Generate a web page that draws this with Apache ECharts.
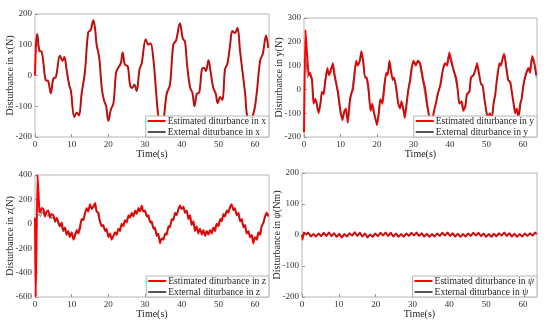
<!DOCTYPE html>
<html><head><meta charset="utf-8">
<script src="https://cdn.jsdelivr.net/npm/echarts@6/dist/echarts.min.js"></script>
<style>html,body{margin:0;padding:0;background:#fff}#c{width:550px;height:327px}</style>
</head><body><div id="c"></div>
<script>
// ---- Data ----
const xTicks = [0,10,20,30,40,50,60];
const tX = [0,0.3,0.6,1.2,1.8,2.3,2.9,3.6,4.3,5.0,5.7,6.8,7.5,8.0,8.6,9.3,9.8,10.7,11.4,12.0,12.7,13.6,14.5,15.2,15.9,16.4,16.8,17.5,18.2,18.8,19.4,20.0,20.7,21.4,22.1,22.7,23.4,23.9,24.5,25.3,25.9,26.5,27.1,27.7,28.5,29.1,30.2,30.9,31.5,32.3,33.0,33.6,34.4,35.0,35.9,36.8,37.7,38.5,39.5,40.3,40.9,41.5,42.3,42.9,43.5,44.1,44.8,45.5,46.1,46.6,47.3,47.9,48.6,49.3,49.8,50.5,51.1,51.8,52.5,53.2,53.8,54.5,55.2,55.9,56.6,57.3,57.7,58.5,59.4,60.0,60.6,61.4,62.1,63.0,63.6];
const estX = [0,105,135,80,78,40,-15,-18,-58,-10,-5,65,48,60,20,-30,-50,-135,-120,-130,-60,10,140,148,180,150,100,60,-40,-80,-100,-148,-110,-90,10,25,40,75,35,30,-30,-40,-30,-50,20,40,118,100,105,50,-50,-130,-175,-150,-60,-30,100,115,170,120,110,30,-40,-55,-100,-60,-55,20,25,15,50,10,-40,-60,-90,-70,-80,20,40,100,145,138,155,80,10,-60,-120,-165,-130,-100,-40,50,70,130,90];
const extX = [95,108,133,82,76,38,-14,-20,-56,-12,-4,63,50,58,22,-28,-52,-132,-122,-128,-62,12,138,150,178,152,98,58,-38,-82,-98,-146,-112,-88,8,27,42,73,37,28,-28,-42,-28,-52,18,42,116,102,103,52,-48,-128,-173,-152,-58,-32,98,117,168,122,108,32,-38,-57,-98,-62,-53,18,27,13,48,12,-38,-62,-88,-72,-78,18,42,98,143,140,153,82,8,-58,-118,-163,-132,-98,-42,48,72,128,92];

const tY = [0,0.4,0.9,1.3,1.6,2.2,2.6,3.1,3.5,4.0,4.5,4.9,5.4,5.8,6.4,6.8,7.3,7.9,8.4,8.9,9.3,9.9,10.5,11.1,11.5,12.0,12.5,12.9,13.4,13.8,14.3,14.7,15.3,15.7,16.2,16.7,17.2,17.7,18.2,18.7,19.2,19.7,20.0,20.5,20.9,21.5,22.0,22.5,22.9,23.4,23.8,24.3,24.7,25.3,25.8,26.3,26.7,27.3,27.6,28.1,28.6,29.1,29.5,30.0,30.6,31.2,31.8,32.5,33.2,33.7,34.4,35.0,35.6,36.1,36.6,37.4,38.0,38.6,39.2,39.8,40.5,41.0,41.6,42.1,42.5,43.2,43.6,44.2,44.6,45.3,45.7,46.4,46.9,47.4,48.0,48.5,48.9,49.4,49.8,50.3,50.9,51.4,51.9,52.4,52.8,53.5,53.9,54.4,54.8,55.3,55.9,56.5,56.9,57.4,57.8,58.3,58.7,59.2,59.6,60.1,60.7,61.4,61.9,62.5,63.2,63.6];
const estY = [-180,250,130,60,70,40,-60,-40,-60,-100,-60,-10,-20,30,90,60,75,110,60,20,-10,-80,-130,-90,-80,-140,-60,-20,0,60,120,100,120,160,120,50,50,0,-90,-60,-100,-130,-150,-100,-40,-60,10,70,60,120,80,40,50,0,-60,-80,-50,-90,-120,-60,0,40,90,120,100,120,110,50,0,-60,-120,-140,-90,-60,-20,20,80,110,100,155,110,80,50,0,-60,-50,-90,-70,-20,-10,50,60,80,110,60,20,20,-40,-80,-120,-100,-130,-60,-20,40,110,100,130,150,100,40,30,-10,-60,-100,-80,-120,-60,-40,20,60,90,70,140,100,60];
const tYe = [0,0.5,1.0,1.6,2.2,2.7,3.2,3.8,4.3,4.8,5.3,5.9,6.3,6.8,7.4,7.8,8.3,8.8,9.4,9.9,10.4,11.0,11.5,12.0,12.5,13.0,13.5,14.0,14.5,15.0,15.6,16.1,16.6,17.1,17.6,18.1,18.6,19.1,19.8,20.3,20.8,21.3,21.9,22.4,22.9,23.3,23.8,24.3,24.8,25.3,25.8,26.3,26.8,27.3,27.9,28.4,28.9,29.4,29.9,30.5,31.1,31.7,32.3,33.0,33.6,34.2,34.9,35.5,36.0,36.6,37.2,37.8,38.4,39.0,39.6,40.3,40.9,41.5,42.0,42.5,43.0,43.5,44.1,44.6,45.2,45.7,46.3,46.8,47.3,47.9,48.4,48.9,49.4,49.9,50.4,51.0,51.5,52.0,52.5,53.0,53.5,54.0,54.5,55.0,55.5,56.0,56.5,57.0,57.5,58.0,58.5,59.0,59.5,60.0,60.6,61.2,61.8,62.4,63.0,63.6];
const extY = [130,120,50,60,30,-40,-50,-90,-80,-20,-10,50,80,70,90,100,50,20,-40,-100,-120,-90,-100,-120,-40,-10,40,100,110,110,150,120,60,40,-10,-70,-80,-100,-140,-110,-50,-50,20,60,70,110,70,50,40,-10,-60,-70,-60,-100,-80,-10,40,90,110,110,120,100,50,-10,-70,-110,-130,-100,-60,-30,20,70,100,110,140,110,80,40,0,-50,-60,-80,-70,-30,-10,40,60,80,100,60,30,10,-40,-90,-110,-110,-110,-50,0,50,100,110,130,140,90,40,20,-20,-70,-90,-100,-100,-50,10,50,80,90,130,110,50];

const tZ = [0,0.2,0.7,1.2,1.4,1.8,2.3,2.7,3.2,3.6,4.1,4.5,5.0,5.5,5.9,6.4,6.8,7.3,7.7,8.2,8.6,9.1,9.5,10.0,10.5,10.9,11.4,11.8,12.3,12.7,13.2,13.6,14.1,14.5,15.0,15.5,15.9,16.4,16.8,17.3,17.7,18.2,18.6,19.1,19.5,20.0,20.5,20.9,21.4,21.8,22.3,22.7,23.2,23.6,24.1,24.5,25.0,25.5,25.9,26.4,26.8,27.3,27.7,28.2,28.6,29.1,29.5,30.0,30.5,30.9,31.4,31.8,32.3,32.7,33.2,33.6,34.1,34.5,35.0,35.5,35.9,36.4,36.8,37.3,37.7,38.2,38.6,39.1,39.5,40.0,40.5,40.9,41.4,41.8,42.3,42.7,43.2,43.6,44.1,44.5,45.0,45.5,45.9,46.4,46.8,47.3,47.7,48.2,48.6,49.1,49.5,50.0,50.5,50.9,51.4,51.8,52.3,52.7,53.2,53.6,54.1,54.5,55.0,55.5,55.9,56.4,56.8,57.3,57.7,58.2,58.6,59.1,59.5,60.0,60.5,60.9,61.4,61.8,62.3,62.7,63.2,63.6];
const estZ = [50,-600,400,100,90,130,120,60,100,110,50,80,70,20,50,10,-20,10,-60,-30,-90,-60,-110,-70,-130,-100,-50,-80,-30,40,30,80,130,100,160,120,140,170,100,90,20,-20,-10,-60,-40,-110,-80,-130,-100,-70,-90,-40,-60,0,-20,30,10,70,50,90,60,110,80,130,100,150,100,110,60,70,10,20,-40,-30,-100,-80,-160,-120,-130,-80,-90,-20,-30,40,30,90,70,120,150,120,140,90,110,40,70,-10,20,-60,-20,-80,-40,-90,-50,-100,-60,-90,-50,-80,-30,-60,0,-20,40,20,80,60,110,90,140,160,110,130,70,90,20,40,-30,-10,-80,-60,-110,-90,-160,-110,-130,-70,-90,-20,10,60,90,60];
const tZe = [0,0.6,1.0,1.5,2.0,2.5,3.0,3.5,4.0,4.5,5.0,5.5,6.0,6.5,7.0,7.5,8.0,8.5,9.0,9.5,10.0,10.5,11.0,11.5,12.0,12.5,13.0,13.5,14.0,14.5,15.0,15.5,16.0,16.5,17.0,17.5,18.0,18.5,19.0,19.5,20.0,20.5,21.0,21.5,22.0,22.5,23.0,23.5,24.0,24.5,25.0,25.5,26.0,26.5,27.0,27.5,28.0,28.5,29.0,29.5,30.0,30.5,31.0,31.5,32.0,32.5,33.0,33.5,34.0,34.5,35.0,35.5,36.0,36.5,37.0,37.5,38.0,38.5,39.0,39.5,40.0,40.5,41.0,41.5,42.0,42.5,43.0,43.5,44.0,44.5,45.0,45.5,46.0,46.5,47.0,47.5,48.0,48.5,49.0,49.5,50.0,50.5,51.0,51.5,52.0,52.5,53.0,53.5,54.0,54.5,55.0,55.5,56.0,56.5,57.0,57.5,58.0,58.5,59.0,59.5,60.0,60.5,61.0,61.5,62.0,62.5,63.0,63.6];
const extZ = [20,60,80,60,100,70,90,60,80,40,60,10,30,-20,0,-50,-30,-80,-60,-100,-80,-110,-70,-70,-30,20,40,80,110,110,140,120,150,120,90,30,0,-20,-40,-60,-90,-100,-110,-90,-80,-60,-40,-20,0,20,40,50,70,70,90,90,110,110,130,110,90,60,40,10,-10,-40,-70,-100,-130,-130,-110,-90,-60,-30,0,30,60,80,110,130,130,120,100,80,50,20,0,-30,-40,-60,-60,-70,-70,-80,-70,-70,-60,-40,-30,-10,10,30,50,70,90,110,120,140,130,110,90,60,30,10,-20,-50,-70,-90,-110,-130,-120,-100,-80,-50,-10,30,70,80];

const tP = [0,0.15,0.5,1.2,1.7,2.4,3.1,3.8,4.5,5.2,5.9,6.6,7.3,8.0,8.7,9.4,10.1,10.8,11.5,12.2,12.9,13.6,14.3,15.0,15.7,16.4,17.1,17.8,18.5,19.2,19.9,20.6,21.3,22.0,22.7,23.4,24.1,24.8,25.5,26.2,26.9,27.6,28.3,29.0,29.7,30.4,31.1,31.8,32.5,33.2,33.9,34.6,35.3,36.0,36.7,37.4,38.1,38.8,39.5,40.2,40.9,41.6,42.3,43.0,43.7,44.4,45.1,45.8,46.5,47.2,47.9,48.6,49.3,50.0,50.7,51.4,52.1,52.8,53.5,54.2,54.9,55.6,56.3,57.0,57.7,58.4,59.1,59.8,60.5,61.2,61.9,62.6,63.3,63.7];
const estP = [0,-15,8,2,8,-5,3,-5,5,-4,7,-3,8,-4,6,-6,4,-8,3,-5,6,-2,9,-3,7,-5,5,-8,2,-6,5,-4,7,-2,8,-3,7,-5,5,-6,3,-6,5,-3,7,-2,8,-3,6,-5,4,-6,3,-5,5,-3,7,-2,8,-3,6,-5,4,-6,3,-5,5,-3,7,-2,7,-4,5,-6,3,-6,4,-4,6,-2,8,-3,6,-5,4,-6,3,-5,5,-3,6,-2,8,3];
const extP = [0,2,6,1,7,-4,2,-4,4,-3,6,-2,7,-3,5,-5,3,-7,2,-4,5,-1,8,-2,6,-4,4,-7,1,-5,4,-3,6,-1,7,-2,6,-4,4,-5,2,-5,4,-2,6,-1,7,-2,5,-4,3,-5,2,-4,4,-2,6,-1,7,-2,5,-4,3,-5,2,-4,4,-2,6,-1,6,-3,4,-5,2,-5,3,-3,5,-1,7,-2,5,-4,3,-5,2,-4,4,-2,5,-1,7,2];

const yRanges = [[-200,200,100],[-200,300,100],[-600,400,200],[-200,200,100]];

// ---- Build chart ----
const zip = (t, v) => t.map((x, i) => [x, v[i]]);
const serif = 'Liberation Serif, Times New Roman, serif';
const RED = '#ff0000', BLK = '#3a3a3a';
const grids = [
  {left:35, top:14, width:234, height:123},
  {left:304, top:18, width:233, height:119},
  {left:35, top:175, width:234, height:122},
  {left:302, top:173, width:235, height:124}
];
const names = ['x','y','z','ψ'];
const yNames = [
  'Disturbance in x(N)',
  'Disturbance in y(N)',
  'Disturbance in z(N)',
  '{n|Disturbance in }{i|ψ}{n|(Nm)}'
];
const richTxt = {n:{fontFamily:serif,fontSize:10,color:'#262626'}, i:{fontFamily:serif,fontSize:10,fontStyle:'italic',color:'#262626'}};
const richLeg = {n:{fontFamily:serif,fontSize:9.6,color:'#262626'}, i:{fontFamily:serif,fontSize:9.6,fontStyle:'italic',color:'#262626'}};
const estData = [zip(tX,estX), zip(tY,estY), zip(tZ,estZ), zip(tP,estP)];
const extData = [zip(tX,extX), zip(tYe,extY), zip(tZe,extZ), zip(tP,extP)];

const xAxes = [], yAxes = [], series = [], legends = [];
grids.forEach((g, k) => {
  g.show = true; g.borderColor = '#b5b5b5'; g.borderWidth = 1; g.backgroundColor = '#fff';
  xAxes.push({
    type:'value', gridIndex:k, min:0, max:63.8, interval:10, position:'bottom',
    name:'Time(s)', nameLocation:'middle', nameGap:12, nameMoveOverlap:false,
    nameTextStyle:{fontFamily:serif, fontSize:10, color:'#262626'},
    axisLine:{show:false, onZero:false}, splitLine:{show:false},
    axisTick:{show:true, inside:true, length:3, lineStyle:{color:'#999'}, customValues:xTicks},
    axisLabel:{fontFamily:serif, fontSize:9, color:'#333', margin:3, customValues:xTicks}
  });
  const r = yRanges[k];
  yAxes.push({
    type:'value', gridIndex:k, min:r[0], max:r[1], interval:r[2], position:'left',
    name:yNames[k], nameLocation:'middle', nameGap:20, nameRotate:90, nameMoveOverlap:false,
    nameTextStyle:{fontFamily:serif, fontSize:10, color:'#262626', rich:richTxt},
    axisLine:{show:false, onZero:false}, splitLine:{show:false},
    axisTick:{show:true, inside:true, length:3, lineStyle:{color:'#999'}},
    axisLabel:{fontFamily:serif, fontSize:9, color:'#333', margin:3}
  });
  const en = 'Estimated diturbance in ' + names[k];
  const xn = 'External diturbance in ' + names[k];
  series.push({
    type:'line', name:en, xAxisIndex:k, yAxisIndex:k, data:estData[k],
    showSymbol:false, smooth:k===0?0.35:0.15, lineStyle:{color:RED, width:2}, itemStyle:{color:RED},
    z:2, silent:true, animation:false
  });
  series.push({
    type:'line', name:xn, xAxisIndex:k, yAxisIndex:k, data:extData[k],
    showSymbol:false, smooth:k===0?0.35:0.15, lineStyle:{color:BLK, width:0.8, opacity:0.85}, itemStyle:{color:BLK},
    z:3, silent:true, animation:false
  });
  const isRight = k % 2 === 1, isBottom = k >= 2;
  legends.push({
    data:[{name:en, itemStyle:{color:RED}}, {name:xn, itemStyle:{color:'#555'}}],
    orient:'vertical', right: isRight ? 13 : 281, bottom: isBottom ? 30 : 190,
    icon:'rect', itemWidth:18, itemHeight:2, itemGap:1,
    padding:[0,3,0,2], borderColor:'#b5b5b5', borderWidth:1, borderRadius:0, backgroundColor:'#fff',
    selectedMode:false, z:10,
    formatter: k===3 ? (n => n.replace('ψ','{i|ψ}').replace(/^([^{]+)/, '{n|$1}')) : undefined,
    textStyle:{fontFamily:serif, fontSize:9.6, color:'#262626', padding:[0,0,0,-3], rich:richLeg}
  });
});

const chart = echarts.init(document.getElementById('c'), null, {renderer:'canvas'});
chart.setOption({
  animation:false, backgroundColor:'#fff',
  grid:grids, xAxis:xAxes, yAxis:yAxes, series:series, legend:legends
});
</script>
</body></html>
